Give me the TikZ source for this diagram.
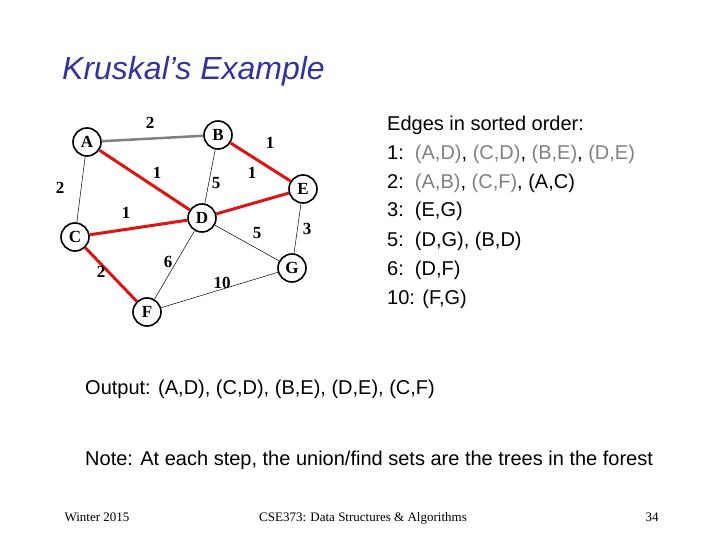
\documentclass[tikz,border=0pt]{standalone}
\usepackage{fontspec}
\setmainfont{Liberation Serif}
\newfontfamily\arial{Liberation Sans}
\begin{document}
\begin{tikzpicture}[x=1pt,y=-1pt,
  vtx/.style={circle,draw,line width=1.6pt,minimum size=28pt,inner sep=0pt,font=\fontsize{17}{17}\selectfont\bfseries},
  red/.style={draw={rgb,255:red,220;green,20;blue,20},line width=3pt},
  thin/.style={draw,line width=0.5pt},
  wl/.style={font=\fontsize{17}{17}\selectfont\bfseries},
  tx/.style={anchor=base west,font=\arial\fontsize{20}{20}\selectfont,inner sep=0pt},
  ft/.style={anchor=base,font=\fontsize{13}{13}\selectfont,inner sep=0pt}]
\useasboundingbox (0,0) rectangle (720,540);
\colorlet{dn}{gray}
\node[anchor=base west,inner sep=0pt,font=\arial\itshape\fontsize{32}{32}\selectfont,text={rgb,255:red,51;green,51;blue,153}] (title) at (62,80) {Kruskal’s Example};
\node[vtx] (A) at (87,142) {A};
\node[vtx] (B) at (218,135) {B};
\node[vtx] (E) at (303,189) {E};
\node[vtx] (D) at (202,218) {D};
\node[vtx] (C) at (75,237) {C};
\node[vtx] (G) at (292,268) {G};
\node[vtx] (F) at (147,312) {F};
\draw[draw=gray,line width=2.5pt] (A) -- (B);
\draw[red] (A) -- (D);
\draw[red] (B) -- (E);
\draw[red] (D) -- (E);
\draw[red] (C) -- (D);
\draw[red] (C) -- (F);
\draw[thin] (A) -- (C);
\draw[thin] (B) -- (D);
\draw[thin] (D) -- (G);
\draw[thin] (E) -- (G);
\draw[thin] (D) -- (F);
\draw[thin] (F) -- (G);
\node[wl] (l1) at (150,123) {2};
\node[wl] (l2) at (157,173) {1};
\node[wl] (l3) at (60,188) {2};
\node[wl] (l4) at (126,213) {1};
\node[wl] (l5) at (101,272) {2};
\node[wl] (l6) at (168,262) {6};
\node[wl] (l7) at (216,183) {5};
\node[wl] (l8) at (270,143) {1};
\node[wl] (l9) at (252,173) {1};
\node[wl] (l10) at (257,233) {5};
\node[wl] (l11) at (307,229) {3};
\node[wl] (l12) at (222,283) {10};
\node[tx] (t1) at (387,131) {Edges in sorted order:};
\node[tx] (t2) at (387,160) {1:\ \ \textcolor{dn}{(A,D)}, \textcolor{dn}{(C,D)}, \textcolor{dn}{(B,E)}, \textcolor{dn}{(D,E)}};
\node[tx] (t3) at (387,189) {2:\ \ \textcolor{dn}{(A,B)}, \textcolor{dn}{(C,F)}, (A,C)};
\node[tx] (t4) at (387,217) {3:\ \ (E,G)};
\node[tx] (t5) at (387,246) {5:\ \ (D,G), (B,D)};
\node[tx] (t6) at (387,275) {6:\ \ (D,F)};
\node[tx] (t7) at (387,304) {10: (F,G)};
\node[tx] (o) at (85,394) {Output: (A,D), (C,D), (B,E), (D,E), (C,F)};
\node[tx] (n) at (85,465) {Note: At each step, the union/find sets are the trees in the forest};
\node[ft] (f1) at (97,521) {Winter 2015};
\node[ft] (f2) at (363,521) {CSE373: Data Structures \& Algorithms};
\node[ft] (f3) at (652,521) {34};
\end{tikzpicture}
\end{document}
